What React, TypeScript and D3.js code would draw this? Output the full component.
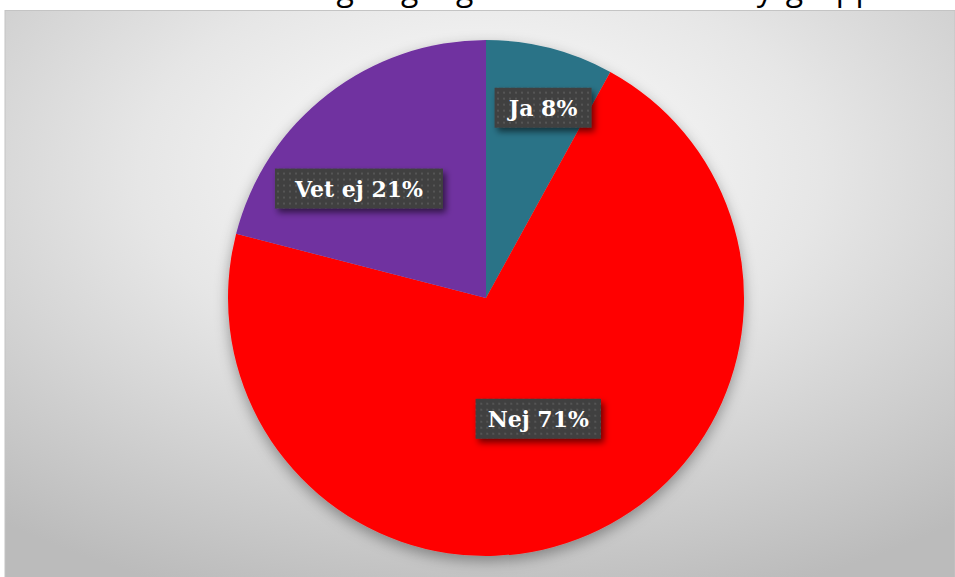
import React from "react";
import * as d3 from "d3";

const categories = ["Ja", "Nej", "Vet ej"];
const values = [8, 71, 21];
const colors = ["#2b7387", "#ff0000", "#7030a0"];
const titleStart = "Har du tänkt att någon gång bli medlem i vår";
const titleEnd = "styrgrupp?";

const W = 955;
const H = 577;
const cx = 486;
const cy = 298;
const R = 258;
// label placement (radius fraction, angle offset in radians) per slice
const labelR = [0.77, 0.51, 0.65];
const labelAngleOffset = [0.04, 0, -0.2];

export default function App() {
  const pie = d3.pie<number>().sort(null).value((d) => d);
  const arcs = pie(values);
  const arcGen = d3.arc<d3.PieArcDatum<number>>().innerRadius(0).outerRadius(R);

  return (
    <svg
      width={W}
      height={H}
      style={{ position: "absolute", left: 0, top: 0, display: "block" }}
    >
      <defs>
        <radialGradient id="bg" cx="50%" cy="28%" r="80%" fx="50%" fy="28%">
          <stop offset="0%" stopColor="#ffffff" />
          <stop offset="45%" stopColor="#e6e6e6" />
          <stop offset="100%" stopColor="#bbbbbb" />
        </radialGradient>
        <filter id="pieShadow" x="-20%" y="-20%" width="140%" height="140%">
          <feDropShadow dx="0" dy="5" stdDeviation="7" floodColor="#000" floodOpacity="0.35" />
        </filter>
        <filter id="boxShadow" x="-20%" y="-30%" width="150%" height="170%">
          <feDropShadow dx="3" dy="4" stdDeviation="3" floodColor="#000" floodOpacity="0.55" />
        </filter>
        <pattern id="dots" width="6" height="6" patternUnits="userSpaceOnUse">
          <rect width="6" height="6" fill="#404040" />
          <rect x="2" y="2" width="2" height="2" fill="#555555" />
        </pattern>
      </defs>
      <rect x={0} y={0} width={W} height={H} fill="#ffffff" />
      <text x={720} y={0} textAnchor="end" fontFamily="'Open Sans', sans-serif" fontSize={32} fill="#000">
        {titleStart}
      </text>
      <text x={730} y={0} textAnchor="start" fontFamily="'Open Sans', sans-serif" fontSize={32} fill="#000">
        {titleEnd}
      </text>
      <rect x={5} y={10.5} width={W - 5} height={H - 10} fill="url(#bg)" stroke="#c4c4c4" strokeWidth={1} />
      <g transform={`translate(${cx},${cy})`}>
        <g filter="url(#pieShadow)">
          {arcs.map((a, i) => (
            <path key={categories[i]} d={arcGen(a) || ""} fill={colors[i]} />
          ))}
        </g>
        {arcs.map((a, i) => {
          const mid = (a.startAngle + a.endAngle) / 2 + labelAngleOffset[i];
          const r = R * labelR[i];
          const x = Math.sin(mid) * r;
          const y = -Math.cos(mid) * r;
          const label = `${categories[i]} ${values[i]}%`;
          const w = label.length * 14.2 + 26;
          const h = 40;
          return (
            <g key={label} transform={`translate(${x},${y})`}>
              <rect x={-w / 2} y={-h / 2} width={w} height={h} fill="url(#dots)" filter="url(#boxShadow)" />
              <text
                x={0}
                y={8}
                textAnchor="middle"
                fontFamily="'DejaVu Serif', serif"
                fontWeight="bold"
                fontSize={22}
                fill="#ffffff"
              >
                {label}
              </text>
            </g>
          );
        })}
      </g>
    </svg>
  );
}
